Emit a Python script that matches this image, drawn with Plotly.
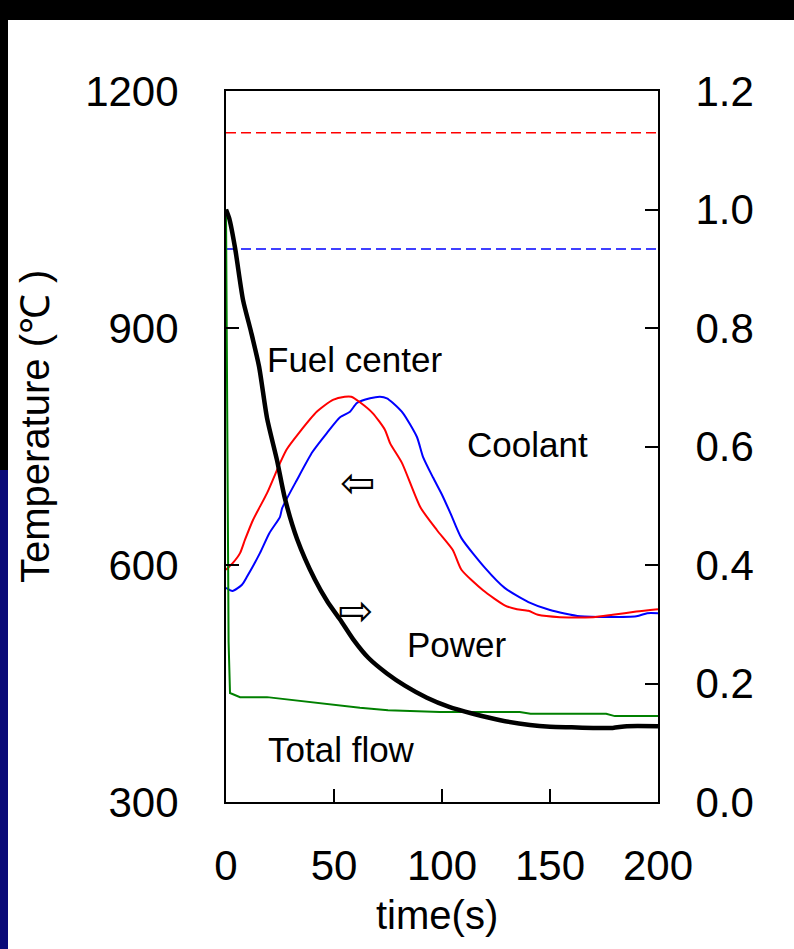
import plotly.graph_objects as go

# ---------------- data ----------------
# Power (normalised, right axis)
power_t = [0, 1.5, 4.2, 7.9, 11.5, 15.3, 19, 23.6, 27.3, 32.9, 41.2, 47, 52.8, 58.8, 66, 74.5, 83, 93, 103, 114.4,
           127, 140.7, 150, 160, 170, 179, 185.6, 200]
power_v = [1.0, 0.985, 0.935, 0.847, 0.795, 0.735, 0.648, 0.577, 0.512, 0.444, 0.375, 0.338, 0.308, 0.275, 0.243,
           0.217, 0.196, 0.176, 0.161, 0.149, 0.138, 0.130, 0.127, 0.126, 0.125, 0.125, 0.128, 0.128]

# Total flow (normalised, right axis)
flow_t = [0, 0.6, 1.2, 1.85, 6.5, 19, 30.5, 48, 62, 75, 99, 136, 141, 176, 180, 200]
flow_v = [1.0, 0.62, 0.27, 0.184, 0.177, 0.177, 0.172, 0.164, 0.159, 0.155, 0.152, 0.152, 0.149, 0.149, 0.145, 0.145]

# Fuel center temperature (left axis)
fuel_t = [0, 3, 6.5, 8.8, 12.5, 19, 25, 28, 34, 42, 49.5, 55, 58, 62, 68, 73.6, 76, 81.5, 90, 97.7, 105, 109,
          119, 129, 134.7, 140, 144.4, 154.6, 170, 179, 190, 200]
fuel_T = [594, 602, 615, 632, 657, 691, 729, 746, 768, 794, 809, 813, 813, 806, 792, 771, 754, 729, 673, 644, 619, 594,
          568, 549, 544, 542, 537, 534, 534, 537, 541, 544]

# Coolant temperature (left axis)
cool_t = [0, 3, 7.4, 9.7, 15.7, 20, 25, 26, 32.9, 40, 46.7, 52.8, 57.4, 60.6, 66.7, 71.3, 74.5, 77.3, 82, 88.4,
          91.2, 95.8, 100, 104, 109, 120, 129, 140, 150, 164, 190, 195, 200]
cool_T = [571, 567, 575, 585, 615, 640, 661, 672, 708, 743, 767, 787, 794, 805, 811, 813, 811, 805, 792, 762,
          737, 711, 689, 665, 634, 596, 571, 553, 543, 535, 535, 539, 539]

# Limit lines (left axis)
fuel_limit = 1147
cool_limit = 1000

x_ticks = [0, 50, 100, 150, 200]
y_ticks = [300, 600, 900, 1200]
y2_ticks = [0, 0.2, 0.4, 0.6, 0.8, 1.0, 1.2]

FONT = "Liberation Sans, Arial, sans-serif"

fig = go.Figure()

# dashed limit lines
fig.add_trace(go.Scatter(x=[0, 200], y=[fuel_limit, fuel_limit], mode="lines",
                         line=dict(color="#ff0000", width=1.5, dash="10px,5px"), hoverinfo="skip"))
fig.add_trace(go.Scatter(x=[0, 200], y=[cool_limit, cool_limit], mode="lines",
                         line=dict(color="#0000ff", width=1.5, dash="10px,5px"), hoverinfo="skip"))

fig.add_trace(go.Scatter(x=flow_t, y=flow_v, mode="lines", yaxis="y2",
                         line=dict(color="#008000", width=2)))
fig.add_trace(go.Scatter(x=cool_t, y=cool_T, mode="lines",
                         line=dict(color="#0000ff", width=2, shape="spline", smoothing=0.6)))
fig.add_trace(go.Scatter(x=fuel_t, y=fuel_T, mode="lines",
                         line=dict(color="#ff0000", width=2, shape="spline", smoothing=0.6)))
fig.add_trace(go.Scatter(x=power_t, y=power_v, mode="lines", yaxis="y2",
                         line=dict(color="#000000", width=4.5, shape="spline", smoothing=0.7)))

tickfont = dict(family=FONT, size=42, color="black")

fig.update_layout(
    width=794, height=949,
    margin=dict(l=226, r=136, t=91, b=147, autoexpand=False),
    paper_bgcolor="white", plot_bgcolor="white",
    showlegend=False,
    xaxis=dict(range=[0, 200], tickvals=x_ticks, ticks="inside", ticklen=13, tickwidth=1.5,
               tickcolor="black", showline=True, linecolor="black", linewidth=2, mirror=True,
               showgrid=False, zeroline=False, tickfont=tickfont, ticklabelstandoff=26),
    yaxis=dict(range=[300, 1200], tickvals=y_ticks, ticks="inside", ticklen=13, tickwidth=1.5,
               tickcolor="black", showline=True, linecolor="black", linewidth=2,
               showgrid=False, zeroline=False, tickfont=tickfont, ticklabelstandoff=37),
    yaxis2=dict(range=[0, 1.2], tickvals=y2_ticks, tickformat=".1f", ticks="inside", ticklen=13,
                tickwidth=1.5, tickcolor="black", showline=True, linecolor="black", linewidth=2,
                overlaying="y", side="right", anchor="x",
                showgrid=False, zeroline=False, tickfont=tickfont, ticklabelstandoff=27),
)

ann_font = dict(family=FONT, size=35, color="black")
arrow_font = dict(family="DejaVu Sans", size=42, color="black")
annotations = [
    dict(text="Fuel center", x=59.3, y=860, xref="x", yref="y", showarrow=False, font=ann_font),
    dict(text="Coolant", x=139.4, y=753, xref="x", yref="y", showarrow=False, font=ann_font),
    dict(text="Power", x=107, y=499, xref="x", yref="y", showarrow=False, font=ann_font),
    dict(text="Total flow", x=53.5, y=366, xref="x", yref="y", showarrow=False, font=ann_font),
    dict(text="⇦", x=61, y=705, xref="x", yref="y", showarrow=False, font=arrow_font),
    dict(text="⇨", x=60, y=543, xref="x", yref="y", showarrow=False, font=arrow_font),
    dict(text="time(s)", x=437, y=915, xref="paper", yref="paper", showarrow=False,
         font=dict(family=FONT, size=40, color="black")),
    dict(text="Temperature (℃ )", x=35, y=427, xref="paper", yref="paper", showarrow=False,
         textangle=-90, font=dict(family=FONT, size=40, color="black")),
]
# convert pixel positions of the axis titles to paper coords
PL, PR, PT, PB = 226, 658, 91, 802
for a in annotations:
    if a["xref"] == "paper":
        a["x"] = (a["x"] - PL) / (PR - PL)
        a["y"] = (PB - a["y"]) / (PB - PT)
        a["xanchor"] = "center"
        a["yanchor"] = "middle"
fig.update_layout(annotations=annotations)

# dark slide frame around the chart (top band and left stripe)
def px_x(x):
    return (x - PL) / (PR - PL)

def px_y(y):
    return (PB - y) / (PB - PT)

shapes = [
    dict(type="rect", xref="paper", yref="paper", x0=px_x(0), x1=px_x(794), y0=px_y(20), y1=px_y(0),
         fillcolor="black", line=dict(width=0), layer="below"),
    dict(type="rect", xref="paper", yref="paper", x0=px_x(0), x1=px_x(8), y0=px_y(470), y1=px_y(0),
         fillcolor="black", line=dict(width=0), layer="below"),
    dict(type="rect", xref="paper", yref="paper", x0=px_x(0), x1=px_x(8), y0=px_y(949), y1=px_y(470),
         fillcolor="#0a0a78", line=dict(width=0), layer="below"),
]
fig.update_layout(shapes=shapes)

fig.write_html("out.html")
